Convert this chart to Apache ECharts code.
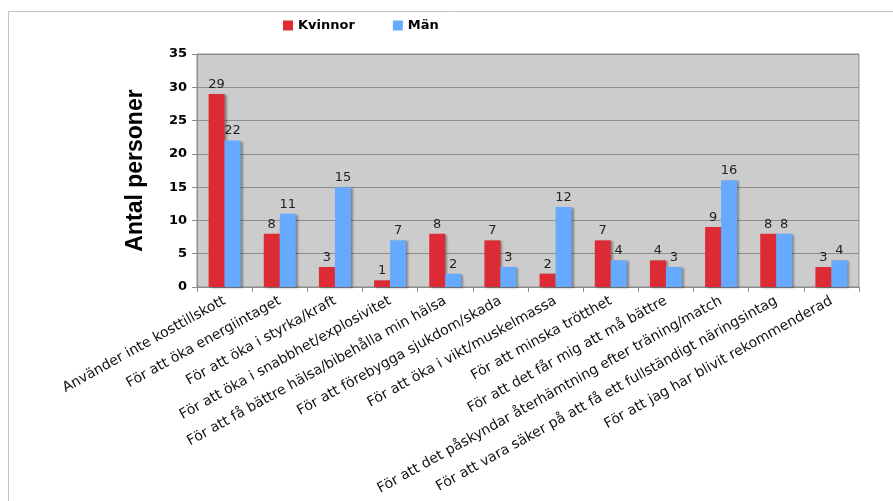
<!DOCTYPE html>
<html>
<head>
<meta charset="utf-8">
<script src="https://cdn.jsdelivr.net/npm/echarts@6/dist/echarts.min.js"></script>
<style>
  html, body { margin: 0; padding: 0; background: #fff; }
  #chart { width: 893px; height: 501px; }
</style>
</head>
<body>
<div id="chart"></div>
<script>
// Reasons for using dietary supplements, by gender
const categories = [
  'Använder inte kosttillskott',
  'För att öka energiintaget',
  'För att öka i styrka/kraft',
  'För att öka i snabbhet/explosivitet',
  'För att få bättre hälsa/bibehålla min hälsa',
  'För att förebygga sjukdom/skada',
  'För att öka i vikt/muskelmassa',
  'För att minska trötthet',
  'För att det får mig att må bättre',
  'För att det påskyndar återhämtning efter träning/match',
  'För att vara säker på att få ett fullständigt näringsintag',
  'För att jag har blivit rekommenderad'
];
const kvinnor = [29, 8, 3, 1, 8, 7, 2, 7, 4, 9, 8, 3];
const man = [22, 11, 15, 7, 2, 3, 12, 4, 3, 16, 8, 4];
const seriesNames = ['Kvinnor', 'Män'];
const yAxisTitle = 'Antal personer';

const FONT = '"DejaVu Sans", Verdana, sans-serif';

const chart = echarts.init(document.getElementById('chart'), null, { renderer: 'canvas' });

const barStyle = (color) => ({
  color: color,
  shadowColor: 'rgba(0,0,0,0.35)',
  shadowBlur: 2,
  shadowOffsetX: 2,
  shadowOffsetY: 1
});

const labelStyle = {
  show: true,
  position: 'top',
  distance: 3,
  color: '#222',
  fontFamily: FONT,
  fontSize: 13
};

chart.setOption({
  animation: false,
  backgroundColor: '#fff',
  graphic: [{
    type: 'rect',
    shape: { x: 8.5, y: 11.5, width: 1000, height: 1000 },
    style: { fill: 'none', stroke: '#c4c4c4', lineWidth: 1 },
    silent: true,
    z: -10
  }],
  legend: {
    left: 283,
    top: 19,
    padding: 0,
    itemWidth: 10,
    itemHeight: 10,
    itemGap: 38,
    icon: 'rect',
    textStyle: { fontFamily: FONT, fontWeight: 'bold', fontSize: 13, color: '#000' },
    data: seriesNames
  },
  grid: {
    left: 197,
    right: 34,
    top: 54,
    bottom: 214,
    containLabel: false,
    show: true,
    backgroundColor: '#cccccc',
    borderColor: '#8c8c8c',
    borderWidth: 1
  },
  xAxis: {
    type: 'category',
    data: categories,
    axisLine: { lineStyle: { color: '#8c8c8c' } },
    axisTick: { show: true, length: 5, lineStyle: { color: '#8c8c8c' } },
    axisLabel: {
      interval: 0,
      rotate: 29,
      margin: 13,
      color: '#111',
      fontFamily: FONT,
      fontSize: 14
    }
  },
  yAxis: {
    type: 'value',
    min: 0,
    max: 35,
    interval: 5,
    name: yAxisTitle,
    nameLocation: 'middle',
    nameGap: 50,
    nameTextStyle: { fontFamily: '"Liberation Sans", Arial, sans-serif', fontWeight: 'bold', fontSize: 23, color: '#000' },
    axisLine: { show: true, lineStyle: { color: '#8c8c8c' } },
    axisTick: { show: true, length: 5, lineStyle: { color: '#8c8c8c' } },
    axisLabel: { color: '#000', fontFamily: FONT, fontWeight: 'bold', fontSize: 13, margin: 10 },
    splitLine: { lineStyle: { color: '#8c8c8c', width: 1 } }
  },
  series: [
    {
      name: seriesNames[0],
      type: 'bar',
      data: kvinnor,
      barWidth: 16,
      barGap: '0%',
      itemStyle: barStyle('#dd2b35'),
      label: labelStyle
    },
    {
      name: seriesNames[1],
      type: 'bar',
      data: man,
      barWidth: 16,
      barGap: '0%',
      itemStyle: barStyle('#66aaff'),
      label: labelStyle
    }
  ]
});
</script>
</body>
</html>
